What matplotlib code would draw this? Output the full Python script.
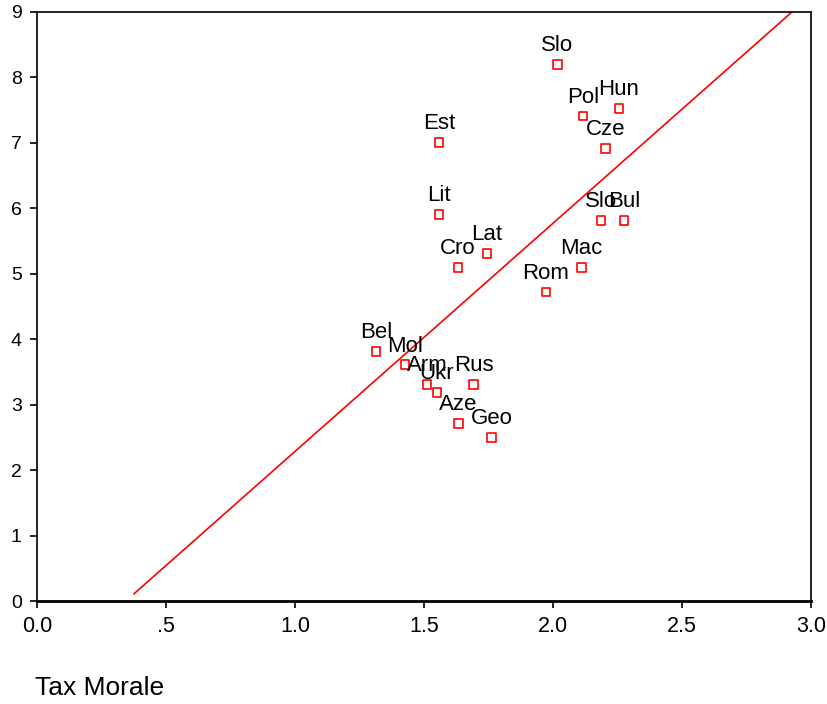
import matplotlib
matplotlib.use("Agg")
import matplotlib.pyplot as plt

countries = ["Slo", "Hun", "Pol", "Cze", "Est", "Lit", "Slo", "Bul", "Lat", "Cro",
             "Mac", "Rom", "Bel", "Mol", "Arm", "Ukr", "Rus", "Aze", "Geo"]
tax_morale = [2.016, 2.256, 2.116, 2.205, 1.558, 1.558, 2.186, 2.275, 1.744, 1.632,
              2.109, 1.973, 1.314, 1.426, 1.512, 1.550, 1.693, 1.633, 1.762]
y_values = [8.20, 7.53, 7.41, 6.92, 7.01, 5.91, 5.82, 5.82, 5.31, 5.10,
            5.10, 4.72, 3.81, 3.61, 3.31, 3.19, 3.31, 2.71, 2.50]
fit_x = [0.376, 2.926]
fit_y = [0.11, 9.0]
xticks = [0.0, 0.5, 1.0, 1.5, 2.0, 2.5, 3.0]
xticklabels = ["0.0", ".5", "1.0", "1.5", "2.0", "2.5", "3.0"]
yticks = list(range(10))

font = "Liberation Sans"

fig = plt.figure(figsize=(8.28, 7.04), dpi=100)
ax = fig.add_axes([37/828, 1-601/704, (811-37)/828, (601-12)/704])

ax.plot(fit_x, fit_y, color="#ff0000", lw=1.2, zorder=2)
ax.scatter(tax_morale, y_values, marker="s", s=40, facecolors="none",
           edgecolors="#ff0000", linewidths=1.2, zorder=3)
for name, x, y in zip(countries, tax_morale, y_values):
    ax.annotate(name, (x, y), xytext=(0, 9.5), textcoords="offset points",
                ha="center", va="baseline", fontsize=16, family=font,
                color="black", zorder=4)

ax.set_xlim(0, 3.0)
ax.set_ylim(0, 9)
ax.set_xticks(xticks)
ax.set_xticklabels(xticklabels, family=font, fontsize=15.5)
ax.set_yticks(yticks)
ax.set_yticklabels([str(t) for t in yticks], family=font, fontsize=14)
ax.tick_params(axis="both", direction="out", length=5, width=1.2, color="black")
ax.tick_params(axis="x", pad=6)
ax.tick_params(axis="y", pad=6)
for s in ax.spines.values():
    s.set_linewidth(1.2)
ax.spines["bottom"].set_linewidth(2)

fig.text(35/828, 1-688/704, "Tax Morale", family=font, fontsize=19,
         ha="left", va="center")

fig.savefig("out.png", dpi=100)
